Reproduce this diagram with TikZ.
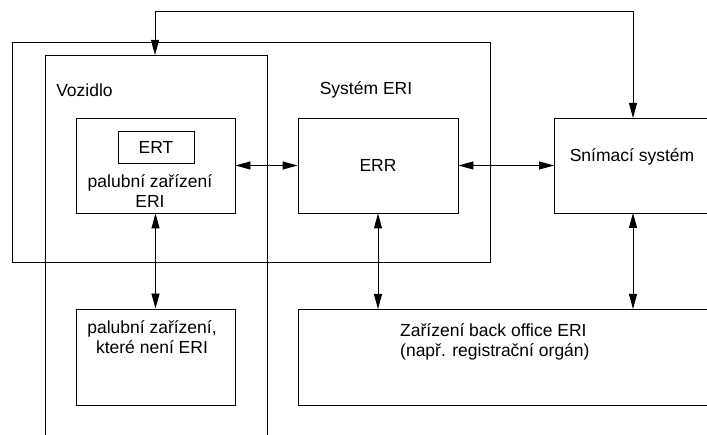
\documentclass[tikz,border=0pt]{standalone}
\usepackage{fontspec}
\setmainfont{Liberation Sans}
\usetikzlibrary{arrows.meta, calc}

\begin{document}
\begin{tikzpicture}[x=1pt, y=-1pt,
        frame/.style={line width=0.9pt},
        box/.style={draw, line width=0.9pt, inner sep=0pt},
        txt/.style={font=\fontsize{17.5}{20}\selectfont, inner sep=0pt, align=center},
        link/.style={line width=0.9pt, {Triangle[length=15pt,width=8pt]}-{Triangle[length=15pt,width=8pt]}}]
                \useasboundingbox (0,0) rectangle (707,435);
                % frames: ERI system, vehicle (open at the bottom)
                \draw[frame] (12,42) rectangle (490,262);
                \draw[frame] (45,435) -- (45,55) -- (267,55) -- (267,435);
                \coordinate (veh) at (155,55);
                \node[txt] (vozidlo) at (84.5,90) {Vozidlo};
                \node[txt] (sys) at (366,90) {Systém ERI};
                % on-board ERI equipment
                \node[box, minimum width=159pt, minimum height=95pt] (obu) at (155.5,165.5) {};
                \node[box, txt, minimum width=76pt, minimum height=32pt] (ert) at (156,147) {ERT};
                \node[txt] (obutxt) at (150,191) {palubní zařízení\\ERI};
                \node[box, txt, minimum width=160pt, minimum height=95pt] (err) at (378,165.5) {ERR};
                % sensing system (open to the right)
                \draw[frame] (707,118) -- (554,118) -- (554,213) -- (707,213);
                \coordinate (snimW) at (554,165.5);
                \coordinate (snimN) at (633,118);
                \coordinate (snimS) at (633,213);
                \node[txt] (snimtxt) at (632,157) {Snímací systém};
                % non-ERI on-board equipment
                \node[box, minimum width=159pt, minimum height=96pt] (nonobu) at (155.5,357) {};
                \node[txt] (nonobutxt) at (152,337) {palubní zařízení,\\ které není ERI};
                % back office (open to the right)
                \draw[frame] (707,309) -- (298,309) -- (298,405) -- (707,405);
                \coordinate (boA) at (378,309);
                \coordinate (boB) at (633,309);
                \node[txt, align=left, anchor=west] (botxt) at (400,342) {Zařízení back office ERI\\(např. registrační orgán)};
                % connectors
                \draw[link] (obu.east) -- (err.west);
                \draw[link] (err.east) -- (snimW);
                \draw[link] (obu.south) -- (nonobu.north);
                \draw[link] (err.south) -- (boA);
                \draw[link] (snimS) -- (boB);
                \draw[link] (veh) -- (veh |- 0,11) -| (snimN);
\end{tikzpicture}
\end{document}
